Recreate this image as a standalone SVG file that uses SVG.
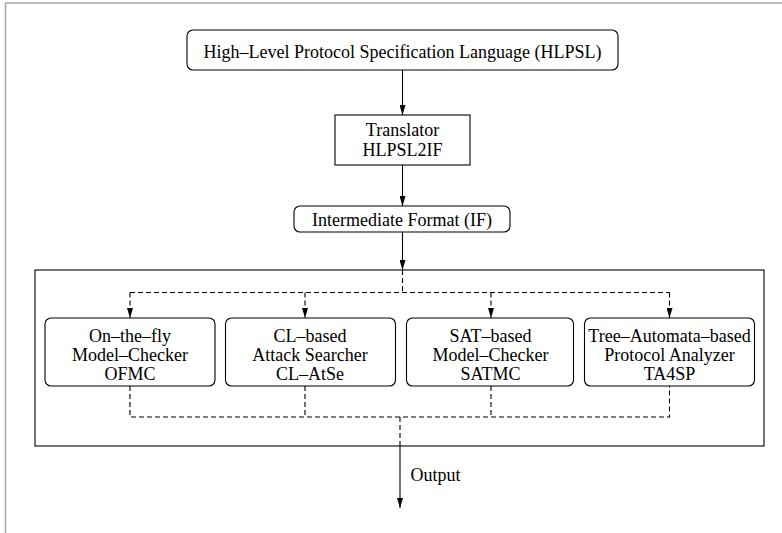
<svg xmlns="http://www.w3.org/2000/svg" width="782" height="533" viewBox="0 0 782 533">
<defs>
<style>
.box{fill:#fff;stroke:#000;stroke-width:1.1}
.t{font-family:"Liberation Serif","Times New Roman",serif;font-size:18px;fill:#000;text-anchor:middle}
.solid{fill:none;stroke:#000;stroke-width:1.1}
.dash{fill:none;stroke:#000;stroke-width:1.1;stroke-dasharray:5 3}
</style>
<marker id="ah" markerUnits="userSpaceOnUse" markerWidth="10" markerHeight="6" refX="10" refY="3" orient="auto">
<path d="M0,0 L10,3 L0,6 z" fill="#000"/>
</marker>
</defs>
<rect width="782" height="533" fill="#fff"/>
<path d="M5.5,533 V3 H782" fill="none" stroke="#a8a8a8" stroke-width="1.6"/>

<g id="container">
<rect x="35" y="270" width="729" height="176" fill="none" stroke="#000" stroke-width="1.1"/>
</g>

<g id="connectors">
<path class="solid" d="M402.5,70 V115" marker-end="url(#ah)"/>
<path class="solid" d="M402.5,165 V206" marker-end="url(#ah)"/>
<path class="solid" d="M402.5,232 V270" marker-end="url(#ah)"/>
<path class="dash" d="M402.5,270 V292.5 M130,292.5 H669.5"/>
<path class="dash" d="M130,292.5 V318" marker-end="url(#ah)"/>
<path class="dash" d="M305,292.5 V318" marker-end="url(#ah)"/>
<path class="dash" d="M491,292.5 V318" marker-end="url(#ah)"/>
<path class="dash" d="M669.5,292.5 V318" marker-end="url(#ah)"/>
<path class="dash" d="M130,386 V417 H669.5 V386 M305,386 V417 M491,386 V417"/>
<path class="dash" d="M400,417 V446"/>
<path class="solid" d="M400,446 V508" marker-end="url(#ah)"/>
<text class="t" x="410.5" y="481" style="text-anchor:start">Output</text>
</g>

<g id="hlpsl">
<rect class="box" x="187" y="30" width="431" height="40" rx="6"/>
<text class="t" x="402.5" y="58">High–Level Protocol Specification Language (HLPSL)</text>
</g>

<g id="translator">
<rect class="box" x="335" y="115" width="135" height="50"/>
<text class="t" x="402.5" y="135.5">Translator</text>
<text class="t" x="402.5" y="155.5">HLPSL2IF</text>
</g>

<g id="if">
<rect class="box" x="294" y="206" width="216" height="26" rx="6"/>
<text class="t" x="402" y="225.5">Intermediate Format (IF)</text>
</g>

<g id="ofmc">
<rect class="box" x="45" y="318" width="170" height="68" rx="6"/>
<text class="t" x="130" y="342">On–the–fly</text>
<text class="t" x="130" y="361">Model–Checker</text>
<text class="t" x="130" y="380">OFMC</text>
</g>

<g id="clatse">
<rect class="box" x="225.5" y="318" width="170" height="68" rx="6"/>
<text class="t" x="310" y="342">CL–based</text>
<text class="t" x="310" y="361">Attack Searcher</text>
<text class="t" x="310" y="380">CL–AtSe</text>
</g>

<g id="satmc">
<rect class="box" x="406.5" y="318" width="167" height="68" rx="6"/>
<text class="t" x="490.5" y="342">SAT–based</text>
<text class="t" x="490.5" y="361">Model–Checker</text>
<text class="t" x="490.5" y="380">SATMC</text>
</g>

<g id="ta4sp">
<rect class="box" x="584.5" y="318" width="170" height="68" rx="6"/>
<text class="t" x="669.5" y="342">Tree–Automata–based</text>
<text class="t" x="669.5" y="361">Protocol Analyzer</text>
<text class="t" x="669.5" y="380">TA4SP</text>
</g>
</svg>
